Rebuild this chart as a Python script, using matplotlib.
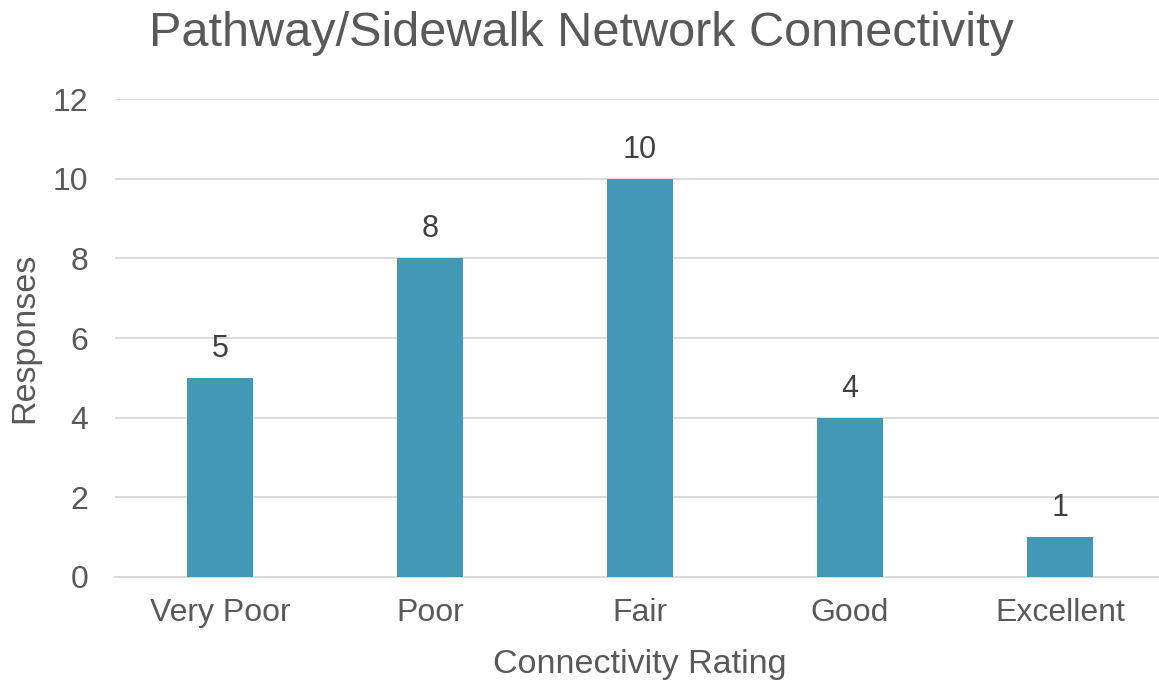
import matplotlib
matplotlib.use("Agg")
import matplotlib.pyplot as plt

# chart data
categories = ["Very Poor", "Poor", "Fair", "Good", "Excellent"]
responses = [5, 8, 10, 4, 1]
y_ticks = [0, 2, 4, 6, 8, 10, 12]

bar_color = "#4398B5"
text_color = "#595959"
grid_color = "#D9D9D9"

plt.rcParams["font.family"] = ["Liberation Sans", "DejaVu Sans"]

fig = plt.figure(figsize=(11.59, 6.82), dpi=100)
ax = fig.add_axes([115 / 1159, 1 - 577 / 682, 1050 / 1159, 478 / 682])

x = range(len(categories))
bars = ax.bar(x, responses, width=0.315, color=bar_color, zorder=3)

for rect, val in zip(bars, responses):
    ax.annotate(str(val), (rect.get_x() + rect.get_width() / 2, val),
                xytext=(0, 10), textcoords="offset points",
                ha="center", va="bottom", fontsize=22, color="#404040")

ax.set_xlim(-0.5, len(categories) - 0.5)
ax.set_ylim(0, 12)
ax.set_yticks(y_ticks)
ax.set_xticks(list(x))
ax.set_xticklabels(categories)

ax.yaxis.grid(True, color=grid_color, linewidth=1.3, zorder=0)
for side in ["top", "right", "left"]:
    ax.spines[side].set_visible(False)
ax.spines["bottom"].set_color(grid_color)
ax.spines["bottom"].set_linewidth(1.3)

ax.tick_params(axis="both", length=0, labelsize=23, labelcolor=text_color)
ax.tick_params(axis="x", pad=15)
ax.tick_params(axis="y", pad=19)

ax.set_xlabel("Connectivity Rating", fontsize=24.5, color=text_color, labelpad=15)
ax.set_ylabel("Responses", fontsize=24.5, color=text_color, labelpad=9)

fig.text(0.5 * (150 + 1012) / 1159, 1 - 34 / 682, "Pathway/Sidewalk Network Connectivity",
         ha="center", va="center", fontsize=35, color=text_color)

fig.savefig("out.png", dpi=100, facecolor="white")
